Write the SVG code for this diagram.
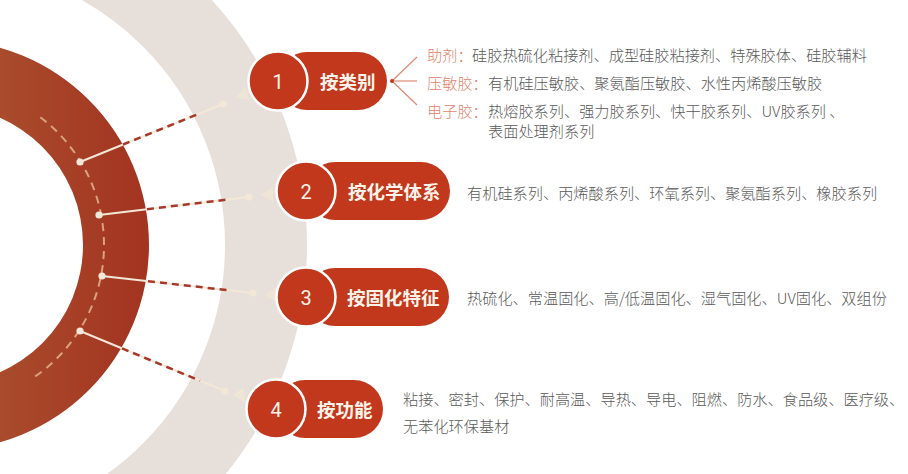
<svg xmlns="http://www.w3.org/2000/svg" width="908" height="474" viewBox="0 0 908 474">
<defs>
<linearGradient id="ringGrad" gradientUnits="userSpaceOnUse" x1="0" y1="0" x2="150" y2="0">
<stop offset="0" stop-color="#A94B2C"/>
<stop offset="1" stop-color="#A33320"/>
</linearGradient>
<style>
.pill{fill:#C1381D}
.num{fill:#C1381D;stroke:#FFFFFF;stroke-width:2.5}
.numt{font-family:Roboto,"Liberation Sans",sans-serif;font-size:20px;fill:#FBF3EA;text-anchor:middle;dominant-baseline:central}
.head{font-family:"Noto Sans CJK SC",sans-serif;font-size:18.5px;font-weight:bold;fill:#FBF3EA;dominant-baseline:central}
.body{font-family:"Noto Sans CJK SC",sans-serif;font-size:15.2px;font-weight:300;fill:#5A5A5A;dominant-baseline:central}
.lab{font-family:"Noto Sans CJK SC",sans-serif;font-size:15.2px;font-weight:300;fill:#E0846D;dominant-baseline:central}
.cream{stroke:#F3E7D7;stroke-width:2;fill:none}
.reddash{stroke:#A8392A;stroke-width:2.5;stroke-dasharray:7 5;fill:none}
.dot{fill:#F3E7D7}
.tri{fill:#EFE5D6}
.fan{stroke:#DE8A74;stroke-width:1.2;fill:none}
</style>
</defs>
<rect width="908" height="474" fill="#FFFFFF"/>
<g id="background">
<circle cx="-56" cy="245" r="322" fill="none" stroke="#E7E0DA" stroke-width="82"/>
<path d="M-261 245a205 205 0 1 0 410 0a205 205 0 1 0 -410 0ZM-195 245a139 139 0 1 1 278 0a139 139 0 1 1 -278 0Z" fill="url(#ringGrad)" fill-rule="evenodd"/>
<path d="M40.3 117.2A160 160 0 0 1 33.5 377.6" fill="none" stroke="#D9A27E" stroke-width="2" stroke-dasharray="8 6"/>
</g>
<g id="connectors">
<line class="cream" x1="80" y1="162" x2="223" y2="104"/>
<line class="reddash" x1="123" y1="144.5" x2="200" y2="113.3"/>
<circle class="dot" cx="80" cy="162" r="3.6"/>
<circle class="dot" cx="223" cy="104" r="3.6"/>
<polygon class="tri" points="236,98 245,87 249,99"/>

<line class="cream" x1="99" y1="215" x2="249" y2="197"/>
<line class="reddash" x1="147" y1="209.2" x2="230" y2="199.3"/>
<circle class="dot" cx="99" cy="215" r="3.6"/>
<circle class="dot" cx="249" cy="197" r="3.6"/>
<polygon class="tri" points="261,195 273,187 273,201"/>

<line class="cream" x1="102" y1="276" x2="253" y2="293"/>
<line class="reddash" x1="148" y1="281.2" x2="230" y2="290.4"/>
<circle class="dot" cx="102" cy="276" r="3.6"/>
<circle class="dot" cx="253" cy="293" r="3.6"/>
<polygon class="tri" points="264,295 276,287 276,301"/>

<line class="cream" x1="80" y1="331" x2="225" y2="391"/>
<line class="reddash" x1="122" y1="348.4" x2="200" y2="380.7"/>
<circle class="dot" cx="80" cy="331" r="3.6"/>
<circle class="dot" cx="225" cy="391" r="3.6"/>
<polygon class="tri" points="233,395 243,388 246,403"/>

<line class="fan" x1="392" y1="81" x2="417" y2="57"/>
<line class="fan" x1="392" y1="81" x2="417" y2="81"/>
<line class="fan" x1="392" y1="81" x2="417" y2="105"/>
<circle cx="392" cy="81" r="2" fill="#C1381D"/>
</g>
<g id="node1">
<rect class="pill" x="278" y="52" width="109" height="58" rx="29"/>
<circle class="num" cx="278" cy="81" r="29.5"/>
<text class="numt" x="278" y="82">1</text>
<text class="head" x="320" y="81">按类别</text>
<text class="lab" x="427" y="54">助剂：</text>
<text class="body" x="472" y="54">硅胶热硫化粘接剂、成型硅胶粘接剂、特殊胶体、硅胶辅料</text>
<text class="lab" x="427" y="82">压敏胶：</text>
<text class="body" x="488" y="82">有机硅压敏胶、聚氨酯压敏胶、水性丙烯酸压敏胶</text>
<text class="lab" x="427" y="109.5">电子胶：</text>
<text class="body" x="488" y="109.5">热熔胶系列、强力胶系列、快干胶系列、UV胶系列 、</text>
<text class="body" x="488" y="129.5">表面处理剂系列</text>
</g>
<g id="node2">
<rect class="pill" x="306" y="162" width="144" height="58" rx="29"/>
<circle class="num" cx="306" cy="191" r="29.5"/>
<text class="numt" x="306" y="192">2</text>
<text class="head" x="348" y="191">按化学体系</text>
<text class="body" x="467" y="192">有机硅系列、丙烯酸系列、环氧系列、聚氨酯系列、橡胶系列</text>
</g>
<g id="node3">
<rect class="pill" x="306" y="268" width="143" height="58" rx="29"/>
<circle class="num" cx="306" cy="297" r="29.5"/>
<text class="numt" x="306" y="298">3</text>
<text class="head" x="347" y="297">按固化特征</text>
<text class="body" x="467" y="297">热硫化、常温固化、高/低温固化、湿气固化、UV固化、双组份</text>
</g>
<g id="node4">
<rect class="pill" x="276" y="380" width="107" height="58" rx="29"/>
<circle class="num" cx="276" cy="409" r="29.5"/>
<text class="numt" x="276" y="410">4</text>
<text class="head" x="317" y="409">按功能</text>
<text class="body" x="403" y="398">粘接、密封、保护、耐高温、导热、导电、阻燃、防水、食品级、医疗级、</text>
<text class="body" x="403" y="425">无苯化环保基材</text>
</g>
</svg>
